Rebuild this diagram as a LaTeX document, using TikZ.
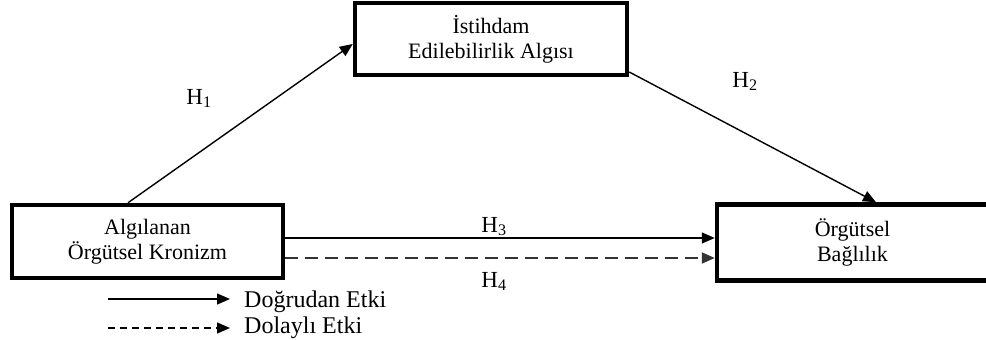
\documentclass[tikz,border=0pt]{standalone}
\usepackage{fontspec}
\setmainfont{Liberation Serif}
\usetikzlibrary{arrows.meta}
\begin{document}
\begin{tikzpicture}[x=1pt,y=-1pt,
  box/.style={draw,line width=4.5pt,align=center,inner sep=0pt,
    font=\fontsize{22}{25}\selectfont},
  lbl/.style={font=\fontsize{23}{25}\selectfont,inner sep=0pt},
  leg/.style={font=\fontsize{24}{25}\selectfont,inner sep=0pt},
  arr/.style={line width=1.4pt,-{Triangle[length=13pt,width=11pt]}},
  darr/.style={line width=2pt,dash pattern=on 13pt off 7pt,draw=black!80,
    -{Triangle[length=13pt,width=11pt]}},
  ldarr/.style={line width=1.4pt,dash pattern=on 7pt off 5pt,
    -{Triangle[length=13pt,width=11pt]}}]
\useasboundingbox (0,0) rectangle (986,340);
\node[box,minimum width=272pt,minimum height=72pt] (T) at (491,39)
  {İstihdam\\Edilebilirlik Algısı};
\node[box,minimum width=271pt,minimum height=73pt] (L) at (147.5,241.5)
  {Algılanan\\Örgütsel Kronizm};
\node[box,minimum width=271pt,minimum height=76pt] (R) at (852.5,242.5)
  {Örgütsel\\Bağlılık};
\draw[arr] ([xshift=-19.5pt]L.north) -- ([yshift=-5pt]T.west);
\draw[arr] ([yshift=-33pt]T.east) -- ([xshift=23.5pt]R.north);
\draw[arr] ([yshift=3.5pt]L.east) -- ([yshift=3.5pt]L.east -| R.west);
\draw[darr] ([yshift=-16.5pt]L.east) -- ([yshift=-16.5pt]L.east -| R.west);
\node[lbl,anchor=base] (h1) at (199,104) {H\textsubscript{1}};
\node[lbl,anchor=base] (h2) at (745,87) {H\textsubscript{2}};
\node[lbl,anchor=base] (h3) at (494,232) {H\textsubscript{3}};
\node[lbl,anchor=base] (h4) at (494,287) {H\textsubscript{4}};
\coordinate (a1) at (108,299);
\coordinate (b1) at (230,299);
\coordinate (a2) at (108,328);
\coordinate (b2) at (230,328);
\draw[arr] (a1) -- (b1);
\draw[ldarr] (a2) -- (b2);
\node[leg,anchor=base west] (t1) at (244,307) {Doğrudan Etki};
\node[leg,anchor=base west] (t2) at (244,333) {Dolaylı Etki};
\end{tikzpicture}
\end{document}
